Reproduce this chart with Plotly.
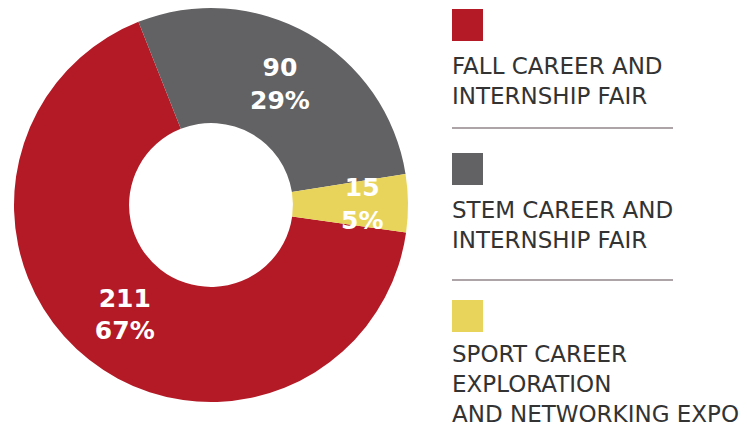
import math
import plotly.graph_objects as go

# Attendance by career event
events = [
    "FALL CAREER AND<br>INTERNSHIP FAIR",
    "STEM CAREER AND<br>INTERNSHIP FAIR",
    "SPORT CAREER<br>EXPLORATION<br>AND NETWORKING EXPO",
]
attendees = [211, 90, 15]
share_labels = ["67%", "29%", "5%"]
colors = ["#B31A26", "#626264", "#E8D45A"]

W, H = 747, 430
cx, cy, r_out = 211, 205, 197
hole = 0.416
rotation = 98.0

label_font = dict(family="DejaVu Sans", size=25, color="white", weight="bold")

# Slices wide enough get the pie's own inside text; the narrow one is
# labelled separately so it isn't pushed out past the ring.
narrow = [v / sum(attendees) < 0.1 for v in attendees]
templates = ["" if n else "%{value}<br>%{text}" for n in narrow]

fig = go.Figure()
fig.add_trace(go.Pie(
    values=attendees,
    labels=[e.replace("<br>", " ") for e in events],
    text=share_labels,
    texttemplate=templates,
    textposition="inside",
    insidetextorientation="horizontal",
    textfont=label_font,
    marker=dict(colors=colors, line=dict(width=0)),
    hole=hole,
    sort=False,
    direction="clockwise",
    rotation=rotation,
    showlegend=False,
    hoverinfo="label+value",
    domain=dict(
        x=[(cx - r_out) / W, (cx + r_out) / W],
        y=[(H - cy - r_out) / H, (H - cy + r_out) / H],
    ),
))

annotations = []
shapes = []

# Label for narrow slices, placed at the slice's mid angle just outside mid-ring
total = sum(attendees)
start = rotation
for v, pct, n in zip(attendees, share_labels, narrow):
    span = 360.0 * v / total
    if n:
        mid = math.radians(start + span / 2.0)
        r_lab = r_out * (1 + hole) / 2 + 12
        px = cx + r_lab * math.sin(mid)
        py = cy - r_lab * math.cos(mid)
        annotations.append(dict(
            xref="paper", yref="paper", x=px / W, y=1 - py / H,
            xanchor="center", yanchor="middle", showarrow=False,
            text=f"{v}<br>{pct}", font=label_font,
        ))
    start += span

# Custom legend: swatch above each label, separated by thin rules
legend_x = 452
swatch_tops = [9, 153, 300]
text_mids = [81.5, 225, 384]
rule_ys = [128, 280]

for color, top, mid, name in zip(colors, swatch_tops, text_mids, events):
    shapes.append(dict(
        type="rect", xref="paper", yref="paper",
        x0=legend_x / W, x1=(legend_x + 31) / W,
        y0=1 - (top + 32) / H, y1=1 - top / H,
        fillcolor=color, line=dict(width=0),
    ))
    annotations.append(dict(
        xref="paper", yref="paper", x=(legend_x - 1) / W, y=1 - mid / H,
        xanchor="left", yanchor="middle", align="left", showarrow=False,
        borderpad=0, text=name,
        font=dict(family="DejaVu Sans", size=23, color="#333333"),
    ))
for ry in rule_ys:
    shapes.append(dict(
        type="line", xref="paper", yref="paper",
        x0=legend_x / W, x1=673 / W, y0=1 - ry / H, y1=1 - ry / H,
        line=dict(color="#5a4a4e", width=1.2),
    ))

fig.update_layout(
    width=W, height=H,
    margin=dict(l=0, r=0, t=0, b=0),
    paper_bgcolor="white", plot_bgcolor="white",
    uniformtext=dict(minsize=25, mode="show"),
    shapes=shapes, annotations=annotations,
)

fig.write_html("out.html")
